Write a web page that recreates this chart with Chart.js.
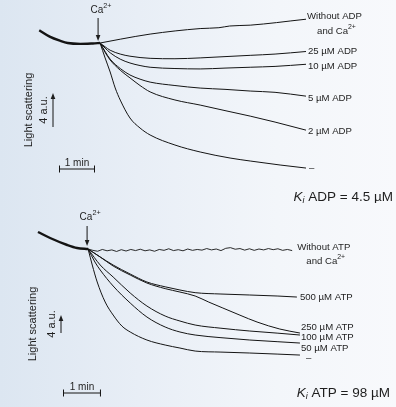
<!DOCTYPE html>
<html>
<head>
<meta charset="utf-8">
<script src="https://cdn.jsdelivr.net/npm/chart.js@4.4.1/dist/chart.umd.min.js"></script>
<style>
html, body { margin: 0; padding: 0; }
body {
  width: 396px; height: 407px; overflow: hidden; position: relative;
  background: linear-gradient(to right, #dce6f1 0%, #e8eef6 35%, #f3f6fa 70%, #f8f9fc 100%);
}
canvas { position: absolute; left: 0; }
#adpChart { top: 0; }
#atpChart { top: 203px; }
</style>
</head>
<body>
<canvas id="adpChart" width="396" height="203"></canvas>
<canvas id="atpChart" width="396" height="204"></canvas>
<script>
/* time is minutes after Ca2+ addition, values are light scattering change in a.u. */

// --- ADP panel ---
var adpBaseT = [-1.69, -1.4, -1.1, -0.9, -0.55, -0.2, 0];
var adpBaseV = [1.5, 0.75, 0.25, 0, -0.1, -0.05, 0];
var adpLabels = ["Without ADP|and Ca^2+", "25 µM ADP", "10 µM ADP", "5 µM ADP", "2 µM ADP", "–"];
var adpTimes = [
  [0, 0.56, 1.39, 2.78, 3.3, 3.6, 4.17, 4.9, 5.3, 5.72],
  [0, 0.14, 0.28, 0.56, 0.83, 1.39, 2.08, 2.78, 3.47, 4.17, 4.86, 5.72],
  [0, 0.14, 0.28, 0.56, 0.83, 1.11, 1.39, 2.08, 2.78, 3.47, 4.17, 4.86, 5.72],
  [0, 0.14, 0.28, 0.56, 0.83, 1.11, 1.39, 2.08, 2.78, 3.47, 4.17, 4.86, 5.72],
  [0, 0.14, 0.28, 0.56, 0.83, 1.11, 1.39, 2.08, 2.78, 3.47, 4.17, 4.86, 5.72],
  [0, 0.14, 0.28, 0.42, 0.56, 0.83, 1.11, 1.39, 2.08, 2.78, 3.61, 4.17, 5.0, 5.72]
];
var adpValues = [
  [0, 0.45, 1.05, 1.7, 1.8, 2.0, 2.1, 2.4, 2.6, 2.8],
  [0, -0.45, -0.85, -1.3, -1.55, -1.8, -1.85, -1.75, -1.6, -1.45, -1.3, -1.0],
  [0, -0.6, -1.15, -1.9, -2.35, -2.65, -2.85, -3.0, -3.05, -2.95, -2.85, -2.75, -2.5],
  [0, -1.0, -1.9, -3.0, -3.76, -4.25, -4.6, -5.0, -5.3, -5.45, -5.65, -5.8, -6.25],
  [0, -1.1, -2.0, -3.2, -4.1, -5.0, -5.75, -6.7, -7.3, -7.95, -8.6, -9.3, -10.25],
  [0, -1.76, -3.41, -5.29, -6.71, -8.82, -10.0, -10.82, -12.0, -12.82, -13.53, -13.88, -14.35, -14.71]
];

// --- ATP panel ---
var atpBaseT = [-1.32, -1.0, -0.55, -0.29, 0];
var atpBaseV = [3.78, 2.44, 0.89, 0.22, 0];
var atpLabels = ["Without ATP|and Ca^2+", "500 µM ATP", "250 µM ATP", "100 µM ATP", "50 µM ATP", "–"];
var atpTimes = [
  [0, 0.125, 0.25, 0.375, 0.5, 0.625, 0.75, 0.875, 1.0, 1.125, 1.25, 1.375, 1.5, 1.625, 1.75, 1.875,
   2.0, 2.125, 2.25, 2.375, 2.5, 2.625, 2.75, 2.875, 3.0, 3.125, 3.25, 3.375, 3.5, 3.625, 3.75, 3.875,
   4.0, 4.125, 4.25, 4.375, 4.5, 4.625, 4.75, 4.875, 5.0, 5.125, 5.25, 5.375],
  [0, 0.32, 0.66, 1.11, 1.55, 2.03, 2.42, 2.82, 3.5, 4.26, 5.0, 5.5],
  [0, 0.32, 0.66, 1.11, 1.55, 2.03, 2.42, 2.82, 3.18, 3.55, 4.0, 4.45, 5.05, 5.58],
  [0, 0.32, 0.66, 1.11, 1.55, 2.03, 2.42, 2.82, 3.5, 4.26, 5.0, 5.58],
  [0, 0.18, 0.32, 0.66, 1.11, 1.55, 2.03, 2.42, 2.82, 3.5, 4.26, 5.0, 5.58],
  [0, 0.11, 0.24, 0.45, 0.66, 0.89, 1.11, 1.55, 2.03, 2.42, 2.82, 3.5, 4.26, 5.0, 5.58]
];
var atpValues = [
  [0, -0.3, -0.5, -0.1, -0.4, -0.2, -0.55, -0.15, -0.45, -0.1, -0.35, -0.05, -0.4, -0.2, -0.5, -0.1,
   -0.3, 0.05, -0.35, -0.15, -0.4, 0.0, -0.3, -0.1, -0.25, 0.1, -0.2, 0.0, -0.35, 0.15, 0.3, -0.05,
   0.1, -0.25, 0.05, -0.3, 0.0, -0.2, 0.1, -0.15, 0.05, -0.3, -0.1, -0.35],
  [0, -1.78, -3.56, -5.56, -7.33, -8.4, -9.11, -9.7, -10.0, -10.22, -10.45, -10.67],
  [0, -1.78, -3.78, -5.78, -7.56, -8.8, -9.56, -10.44, -11.8, -13.11, -14.7, -16.22, -17.78, -18.67],
  [0, -3.56, -6.22, -9.78, -12.67, -14.89, -16.0, -16.89, -17.6, -18.22, -18.7, -19.11],
  [0, -2.89, -4.67, -8.22, -12.0, -15.11, -17.33, -18.44, -19.11, -19.7, -20.22, -20.6, -20.89],
  [0, -3.56, -7.33, -11.78, -14.67, -17.11, -18.44, -20.22, -21.33, -22.0, -22.67, -22.9, -23.11, -23.35, -23.56]
];

var lineColor = "#141414";
var textColor = "#1e1e1e";
var fontFamily = "'Liberation Sans', Arial, Helvetica, sans-serif";

function toPoints(ts, vs) {
  return ts.map(function (t, i) { return { x: t, y: vs[i] }; });
}

function fontOf(p) {
  return (p.italic ? "italic " : "") + p.size + "px " + fontFamily;
}

// parts: [{text, size, italic, shift}]
function drawRich(ctx, parts, x, y, align) {
  var w = 0;
  parts.forEach(function (p) { ctx.font = fontOf(p); w += ctx.measureText(p.text).width; });
  var cx = align === "center" ? x - w / 2 : (align === "right" ? x - w : x);
  parts.forEach(function (p) {
    ctx.font = fontOf(p);
    ctx.fillText(p.text, cx, y + (p.shift || 0));
    cx += ctx.measureText(p.text).width;
  });
  return w;
}

// "and Ca^2+" -> normal text + superscript
function labelParts(str, size) {
  var k = str.indexOf("^");
  if (k < 0) return [{ text: str, size: size }];
  return [{ text: str.slice(0, k), size: size }, { text: str.slice(k + 1), size: size * 0.72, shift: -4 }];
}

function arrow(ctx, x, y0, y1) {
  // shaft from y0 to y1, head at y1
  var dir = y1 > y0 ? 1 : -1;
  ctx.beginPath();
  ctx.moveTo(x, y0);
  ctx.lineTo(x, y1 - dir * 5);
  ctx.stroke();
  ctx.beginPath();
  ctx.moveTo(x, y1);
  ctx.lineTo(x - 2.3, y1 - dir * 6);
  ctx.lineTo(x + 2.3, y1 - dir * 6);
  ctx.closePath();
  ctx.fill();
}

var notesPlugin = {
  id: "figureNotes",
  afterDatasetsDraw: function (chart, args, o) {
    var ctx = chart.ctx, xs = chart.scales.x, ys = chart.scales.y;
    ctx.save();
    ctx.fillStyle = textColor;
    ctx.strokeStyle = lineColor;
    ctx.lineWidth = 1;
    ctx.textBaseline = "middle";

    // curve labels at the end of each trace
    o.labels.forEach(function (lab, i) {
      var meta = chart.getDatasetMeta(i + 1);
      var last = meta.data[meta.data.length - 1];
      var x = last.x + o.labelDx[i], y = last.y + o.labelDy[i];
      var lines = lab.split("|");
      var w = drawRich(ctx, labelParts(lines[0], 9.6), x, y, "left");
      if (lines[1]) drawRich(ctx, labelParts(lines[1], 9.6), x + w / 2 + 2, y + o.lineGap, "center");
    });

    // Ca2+ addition arrow
    var cx = xs.getPixelForValue(0) + o.caDx;
    drawRich(ctx, labelParts("Ca^2+", 10), cx + 3, o.caLabelY, "center");
    arrow(ctx, cx, o.caArrow[0], o.caArrow[1]);

    // y scale: 4 a.u. arrow
    var ay0 = o.auBottom, ay1 = ay0 - (ys.getPixelForValue(0) - ys.getPixelForValue(4));
    arrow(ctx, o.auX, ay0, ay1);
    var mid = (ay0 + ay1) / 2;
    ctx.save();
    ctx.translate(o.lsX, mid);
    ctx.rotate(-Math.PI / 2);
    drawRich(ctx, [{ text: "Light scattering", size: 11 }], 0, 0, "center");
    drawRich(ctx, [{ text: "4 a.u.", size: 11 }], 0, o.auX - o.lsX - 9, "center");
    ctx.restore();

    // x scale: 1 min bar
    var bx0 = o.barX, bx1 = bx0 + (xs.getPixelForValue(1) - xs.getPixelForValue(0));
    ctx.beginPath();
    ctx.moveTo(bx0, o.barY); ctx.lineTo(bx1, o.barY);
    ctx.moveTo(bx0 + 0.5, o.barY - 3.5); ctx.lineTo(bx0 + 0.5, o.barY + 3.5);
    ctx.moveTo(bx1 - 0.5, o.barY - 3.5); ctx.lineTo(bx1 - 0.5, o.barY + 3.5);
    ctx.stroke();
    drawRich(ctx, [{ text: "1 min", size: 10 }], (bx0 + bx1) / 2, o.barY - 6, "center");

    // Ki text
    drawRich(ctx, [
      { text: "K", size: 13.5, italic: true },
      { text: "i", size: 9, italic: true, shift: 3 },
      { text: " " + o.ki, size: 13.5 }
    ], o.kiX, o.kiY, "right");

    ctx.restore();
  }
};

function buildDatasets(baseT, baseV, times, values, jagged) {
  var sets = [{ data: toPoints(baseT, baseV), borderWidth: 2.4 }];
  times.forEach(function (ts, i) {
    sets.push({ data: toPoints(ts, values[i]), borderWidth: 1, jagged: jagged === i });
  });
  sets.forEach(function (s) {
    s.borderColor = lineColor;
    s.pointRadius = 0;
    s.fill = false;
    if (s.jagged) {
      s.tension = 0;
      s.borderWidth = 0.9;
    } else {
      s.cubicInterpolationMode = "monotone";
    }
  });
  return sets;
}

function makeChart(id, datasets, xr, yr, notes) {
  return new Chart(document.getElementById(id), {
    type: "line",
    data: { datasets: datasets },
    options: {
      responsive: false,
      animation: false,
      layout: { padding: 0 },
      scales: {
        x: { type: "linear", display: false, min: xr[0], max: xr[1] },
        y: { type: "linear", display: false, min: yr[0], max: yr[1] }
      },
      plugins: { legend: { display: false }, tooltip: { enabled: false }, figureNotes: notes }
    },
    plugins: [notesPlugin]
  });
}

makeChart("adpChart", buildDatasets(adpBaseT, adpBaseV, adpTimes, adpValues, -1),
  [-2.78, 8.22], [-18.82, 5.06], {
    labels: adpLabels,
    labelDx: [1, 2, 2, 2, 2, 3],
    labelDy: [-3, 0, 2, 2, 1, 0],
    lineGap: 15,
    caDx: -2, caLabelY: 10, caArrow: [18, 41],
    auX: 53, auBottom: 127, lsX: 29,
    barX: 59, barY: 169,
    ki: "ADP = 4.5 µM", kiX: 393, kiY: 197
  });

makeChart("atpChart", buildDatasets(atpBaseT, atpBaseV, atpTimes, atpValues, 0),
  [-2.32, 8.11], [-35.1, 10.22], {
    labels: atpLabels,
    labelDx: [5, 3, 1, 1, 1, 6],
    labelDy: [-3, 0, -6, 2, 5, 3],
    lineGap: 14,
    caDx: -1, caLabelY: 14, caArrow: [23, 43],
    auX: 61, auBottom: 130, lsX: 33,
    barX: 63, barY: 190,
    ki: "ATP = 98 µM", kiX: 390, kiY: 190
  });
</script>
</body>
</html>
